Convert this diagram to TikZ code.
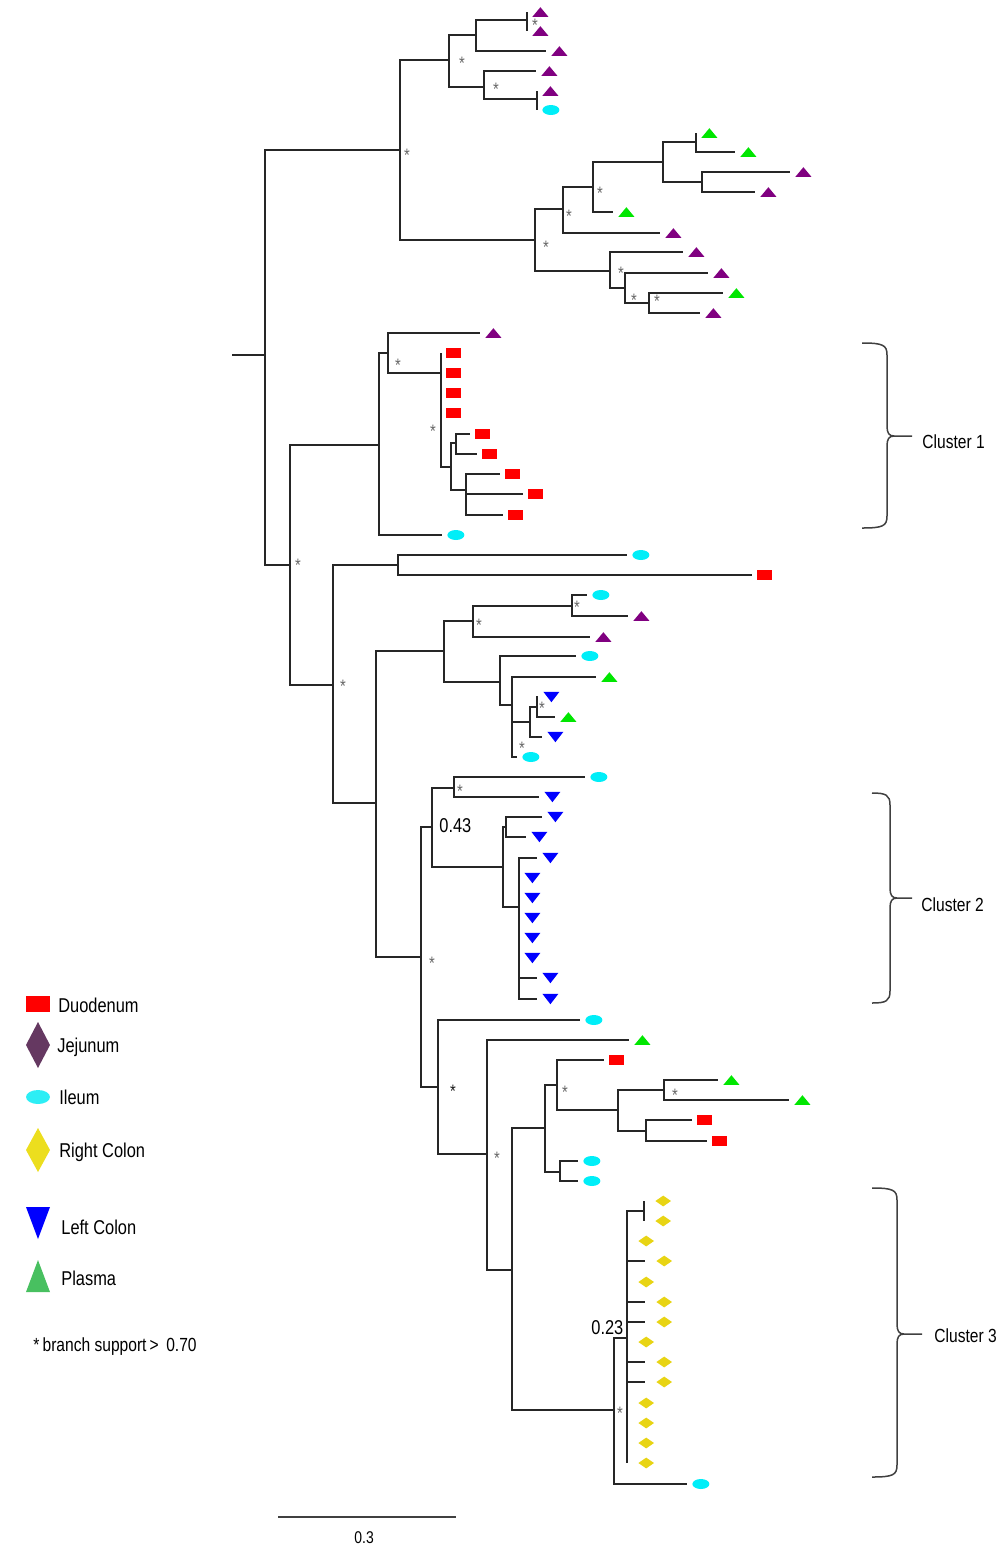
\documentclass[tikz,border=0pt]{standalone}
\usepackage{fontspec}
\setmainfont{Liberation Sans}[FakeStretch=0.82]
\usetikzlibrary{shapes.geometric}
\definecolor{jej}{RGB}{128,0,128}
\definecolor{pla}{RGB}{0,230,0}
\definecolor{ile}{RGB}{0,238,248}
\definecolor{duo}{RGB}{255,0,0}
\definecolor{lco}{RGB}{0,0,255}
\definecolor{rco}{RGB}{232,212,20}
\definecolor{legjej}{RGB}{101,56,97}
\definecolor{legpla}{RGB}{72,192,96}
\definecolor{legile}{RGB}{45,238,245}
\definecolor{legrco}{RGB}{236,222,30}
\tikzset{
  br/.style={line width=1.25pt, black!85},
  upt/.style={inner sep=0pt, minimum width=8pt, minimum height=4.8pt,
    path picture={\fill[#1] (path picture bounding box.south west) -- (path picture bounding box.south east) -- (path picture bounding box.north) -- cycle;}},
  dnt/.style={inner sep=0pt, minimum width=8pt, minimum height=5.2pt,
    path picture={\fill[#1] (path picture bounding box.north west) -- (path picture bounding box.north east) -- (path picture bounding box.south) -- cycle;}},
  dia/.style={inner sep=0pt, minimum width=7.8pt, minimum height=5.4pt,
    path picture={\fill[#1] (path picture bounding box.west) -- (path picture bounding box.north) -- (path picture bounding box.east) -- (path picture bounding box.south) -- cycle;}},
  rct/.style={rectangle, fill=#1, inner sep=0pt, minimum width=7.5pt, minimum height=5pt},
  ell/.style={ellipse, fill=#1, inner sep=0pt, minimum width=8.5pt, minimum height=5pt},
  mJ/.style={upt=jej}, mP/.style={upt=pla}, mI/.style={ell=ile},
  mD/.style={rct=duo}, mL/.style={dnt=lco}, mR/.style={dia=rco, xshift=3pt},
  bs/.style={text=black!60, font=\fontsize{9}{9}\selectfont, inner sep=0pt, yshift=-1.6pt},
  lab/.style={anchor=base west, inner sep=0pt, font=\fontsize{10}{12}\selectfont},
  clab/.style={anchor=base west, inner sep=0pt, font=\fontsize{9.5}{11}\selectfont},
  brc/.style={line width=0.75pt, black!75},
}
\newcommand\tnd[4]{\coordinate (#1) at (#2,#3); \draw[br] (#4) |- (#1);}
\newcommand\tlf[5]{\coordinate (#1) at (#2,#3); \draw[br] (#4) |- (#1);
  \node[#5, anchor=west, xshift=2.5pt] (m#1) at (#1) {};}
\newcommand\tst[3]{\node[bs] (#1) at (#2,#3) {*};}
\newcommand\tbrace[7]{% name xl xv xt ytop ytip ybot
  \coordinate (#1t) at (#2,#5);
  \coordinate (#1p) at (#4,#6);
  \coordinate (#1b) at (#2,#7);
  \draw[brc] (#1t) .. controls (#3-4,#5) and (#3,#5+2) .. (#3,#5+12) -- (#3,#6-10)
     .. controls (#3,#6-3) and (#3+2,#6) .. (#3+7,#6) -- (#1p);
  \draw[brc] (#3+7,#6) .. controls (#3+2,#6) and (#3,#6+3) .. (#3,#6+10) -- (#3,#7-12)
     .. controls (#3,#7-2) and (#3-4,#7) .. (#1b);
}
\begin{document}
\begin{tikzpicture}[x=0.5pt,y=-0.5pt]
\useasboundingbox (0,0) rectangle (1000,1555);
% root
\coordinate (r0) at (232,355);
\coordinate (R) at (265,355);
\draw[br] (r0) -- (R);
\tnd{A0}{400}{150}{R}
\tnd{D0}{290}{565}{R}
% clade A
\tnd{A1}{449}{60}{A0}
\tnd{B0}{535}{240}{A0}
\tnd{A2}{476}{35}{A1}
\tnd{A3}{484}{87}{A1}
\tnd{A4}{527}{20}{A2}
\tlf{a1}{527}{12}{A4}{mJ}
\tlf{a2}{527}{31}{A4}{mJ}
\tlf{a3}{546}{51}{A2}{mJ}
\tlf{a4}{536}{71}{A3}{mJ}
\tnd{A5}{537}{99}{A3}
\tlf{a5}{537}{91}{A5}{mJ}
\tlf{a6}{537}{110}{A5}{mI}
% clade B
\tnd{B1}{563}{209}{B0}
\tnd{B5}{610}{271}{B0}
\tnd{B2}{593}{187}{B1}
\tlf{b7}{660}{233}{B1}{mJ}
\tnd{B3}{663}{162}{B2}
\tlf{b5}{613}{212}{B2}{mP}
\tnd{B4}{696}{142}{B3}
\tnd{B4b}{702}{182}{B3}
\tlf{b1}{696}{133}{B4}{mP}
\tlf{b2}{735}{152}{B4}{mP}
\tlf{b3}{790}{172}{B4b}{mJ}
\tlf{b4}{755}{192}{B4b}{mJ}
\tlf{b8}{683}{252}{B5}{mJ}
\tnd{B6}{625}{288}{B5}
\tlf{b9}{708}{273}{B6}{mJ}
\tnd{B7}{649}{303}{B6}
\tlf{b10}{723}{293}{B7}{mP}
\tlf{b11}{700}{313}{B7}{mJ}
% clade C
\tnd{C0}{379}{445}{D0}
\tnd{D1}{333}{685}{D0}
\tnd{C1}{388}{353}{C0}
\tlf{c0}{442}{535}{C0}{mI}
\tlf{c1}{480}{333}{C1}{mJ}
\tnd{C2}{441}{373}{C1}
\tlf{c2}{441}{353}{C2}{mD}
\tlf{c3}{441}{373}{C2}{mD}
\tlf{c4}{441}{393}{C2}{mD}
\tlf{c5}{441}{413}{C2}{mD}
\tnd{C3}{451}{467}{C2}
\tnd{C4}{456}{443}{C3}
\tnd{C5}{466}{490}{C3}
\tlf{c6}{470}{434}{C4}{mD}
\tlf{c7}{477}{454}{C4}{mD}
\tlf{c8}{500}{474}{C5}{mD}
\tlf{c9}{523}{494}{C5}{mD}
\tlf{c10}{503}{515}{C5}{mD}
% clade D
\tnd{D2}{398}{565}{D1}
\tnd{D3}{376}{803}{D1}
\tlf{d1}{627}{555}{D2}{mI}
\tlf{d2}{752}{575}{D2}{mD}
\tnd{D4}{444}{651}{D3}
\tnd{E0}{421}{957}{D3}
\tnd{D5}{473}{621}{D4}
\tnd{D7}{500}{682}{D4}
\tnd{D6}{572}{606}{D5}
\tlf{d5}{590}{637}{D5}{mJ}
\tlf{d3}{587}{595}{D6}{mI}
\tlf{d4}{628}{616}{D6}{mJ}
\tlf{d6}{576}{656}{D7}{mI}
\tnd{D8}{512}{705}{D7}
\tlf{d7}{596}{677}{D8}{mP}
\tnd{D9}{530}{722}{D8}
\tlf{d11}{517}{757}{D8}{mI}
\tnd{D10}{537}{707}{D9}
\tlf{d10}{542}{737}{D9}{mL}
\tlf{d8}{538}{697}{D10}{mL}
\tlf{d9}{555}{717}{D10}{mP}
% clade E
\tnd{E1}{432}{827}{E0}
\tnd{F0}{438}{1087}{E0}
\tnd{E2}{454}{788}{E1}
\tnd{E3}{503}{867}{E1}
\tlf{e1}{585}{777}{E2}{mI}
\tlf{e2}{539}{797}{E2}{mL}
\tnd{E4}{506}{827}{E3}
\tnd{E5}{519}{907}{E3}
\tlf{e3}{542}{817}{E4}{mL}
\tlf{e4}{526}{837}{E4}{mL}
\tlf{e5}{537}{858}{E5}{mL}
\tlf{e6}{519}{878}{E5}{mL}
\tlf{e7}{519}{898}{E5}{mL}
\tlf{e8}{519}{918}{E5}{mL}
\tlf{e9}{519}{938}{E5}{mL}
\tlf{e10}{519}{958}{E5}{mL}
\tlf{e11}{537}{978}{E5}{mL}
\tlf{e12}{537}{999}{E5}{mL}
% clade F
\tlf{f1}{580}{1020}{F0}{mI}
\tnd{F1}{487}{1154}{F0}
\tlf{f2}{629}{1040}{F1}{mP}
\tnd{F2}{512}{1270}{F1}
\tnd{F3}{545}{1128}{F2}
\tnd{G0}{614}{1410}{F2}
\tnd{F4}{557}{1085}{F3}
\tnd{F7}{560}{1172}{F3}
\tlf{f3}{604}{1060}{F4}{mD}
\tnd{F5}{618}{1110}{F4}
\tnd{F6}{664}{1090}{F5}
\tnd{F8}{646}{1131}{F5}
\tlf{f4}{718}{1080}{F6}{mP}
\tlf{f5}{789}{1100}{F6}{mP}
\tlf{f6}{692}{1120}{F8}{mD}
\tlf{f7}{707}{1141}{F8}{mD}
\tlf{f8}{578}{1161}{F7}{mI}
\tlf{f9}{578}{1181}{F7}{mI}
% clade G
\tnd{G1}{627}{1338}{G0}
\tlf{g0}{687}{1484}{G0}{mI}
\tnd{G2}{644}{1211}{G1}
\tlf{g1}{644}{1201}{G2}{mR}
\tlf{g2}{644}{1221}{G2}{mR}
\tlf{g3}{627}{1241}{G1}{mR}
\tlf{g4}{645}{1261}{G1}{mR}
\tlf{g5}{627}{1282}{G1}{mR}
\tlf{g6}{645}{1302}{G1}{mR}
\tlf{g7}{645}{1322}{G1}{mR}
\tlf{g8}{627}{1342}{G1}{mR}
\tlf{g9}{645}{1362}{G1}{mR}
\tlf{g10}{645}{1382}{G1}{mR}
\tlf{g11}{627}{1403}{G1}{mR}
\tlf{g12}{627}{1423}{G1}{mR}
\tlf{g13}{627}{1443}{G1}{mR}
\tlf{g14}{627}{1463}{G1}{mR}
% branch support stars
\tst{s1}{535}{22}
\tst{s2}{462}{60}
\tst{s3}{496}{86}
\tst{s4}{407}{152}
\tst{s5}{600}{190}
\tst{s6}{569}{213}
\tst{s7}{546}{244}
\tst{s8}{621}{270}
\tst{s9}{634}{297}
\tst{s10}{657}{298}
\tst{s11}{398}{362}
\tst{s12}{433}{428}
\tst{s13}{298}{562}
\tst{s14}{343}{683}
\tst{s15}{479}{622}
\tst{s16}{577}{604}
\tst{s17}{542}{705}
\tst{s18}{522}{745}
\tst{s19}{460}{788}
\tst{s20}{432}{960}
\node[bs, text=black!90] (s21) at (453,1088) {*};
\tst{s22}{497}{1155}
\tst{s23}{565}{1089}
\tst{s24}{675}{1092}
\tst{s25}{620}{1410}
% support values
\node[lab] (v43) at (439,832) {0.43};
\node[lab] (v23) at (591,1334) {0.23};
% braces
\tbrace{k1}{862}{887}{912}{343}{436}{528}
\tbrace{k2}{872}{890}{912}{793}{898}{1003}
\tbrace{k3}{872}{897}{922}{1188}{1334}{1477}
\node[clab] (cl1) at (922,448) {Cluster 1};
\node[clab] (cl2) at (921,911) {Cluster 2};
\node[clab] (cl3) at (934,1342) {Cluster 3};
% legend
\node[rct=duo, minimum width=12pt, minimum height=8pt] (lg1) at (38,1004) {};
\node[dia=legjej, minimum width=12pt, minimum height=23pt] (lg2) at (38,1045) {};
\node[ell=legile, minimum width=12pt, minimum height=7pt] (lg3) at (38,1097) {};
\node[dia=legrco, minimum width=12pt, minimum height=22pt] (lg4) at (38,1150) {};
\node[dnt=lco, minimum width=12pt, minimum height=16pt] (lg5) at (38,1223) {};
\node[upt=legpla, minimum width=12pt, minimum height=16pt] (lg6) at (38,1276) {};
\node[lab] (lt1) at (58,1012) {Duodenum};
\node[lab] (lt2) at (57,1052) {Jejunum};
\node[lab] (lt3) at (59,1104) {Ileum};
\node[lab] (lt4) at (59,1157) {Right Colon};
\node[lab] (lt5) at (61,1234) {Left Colon};
\node[lab] (lt6) at (61,1285) {Plasma};
\node[lab, font=\fontsize{9.5}{11}\selectfont] (lt7) at (33,1351) {*\,branch support\,>\, 0.70};
% scale bar
\coordinate (sb1) at (278,1517);
\coordinate (sb2) at (456,1517);
\draw[line width=1pt, black!75] (sb1) -- (sb2);
\node[lab, font=\fontsize{8.5}{10}\selectfont] (sbl) at (354,1543) {0.3};
\end{tikzpicture}
\end{document}
